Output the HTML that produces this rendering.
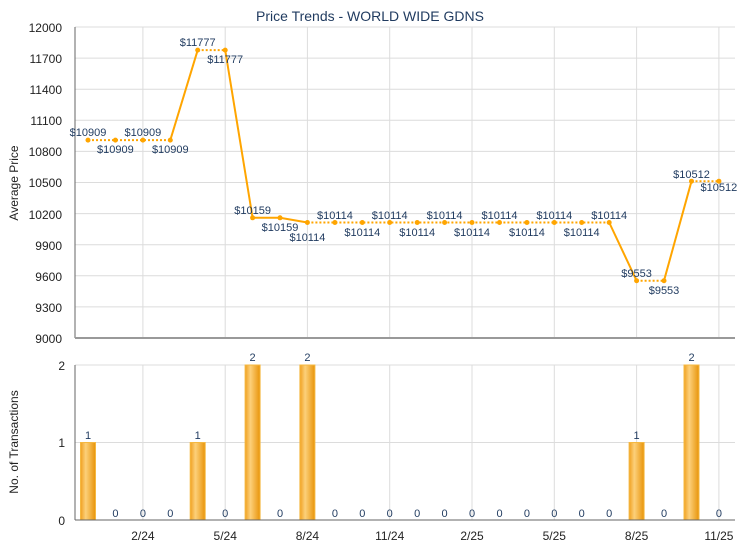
<!DOCTYPE html>
<html><head><meta charset="utf-8"><style>
html,body{margin:0;padding:0;background:#fff;}
svg{display:block;font-family:"Liberation Sans",sans-serif;}
</style></head><body>
<svg width="740" height="550" xmlns="http://www.w3.org/2000/svg">
<defs>
<linearGradient id="g" x1="0" x2="1" y1="0" y2="0">
<stop offset="0" stop-color="#f0a020"/><stop offset="0.35" stop-color="#fcd07a"/><stop offset="1" stop-color="#e8940a"/>
</linearGradient>
</defs>
<text x="370" y="21" text-anchor="middle" font-size="14" fill="#1f3a5f">Price Trends - WORLD WIDE GDNS</text>
<g stroke="#dcdcdc" stroke-width="1">
<line x1="75" x2="735" y1="306.9" y2="306.9"/><line x1="75" x2="735" y1="275.8" y2="275.8"/>
<line x1="75" x2="735" y1="244.7" y2="244.7"/><line x1="75" x2="735" y1="213.6" y2="213.6"/>
<line x1="75" x2="735" y1="182.5" y2="182.5"/><line x1="75" x2="735" y1="151.4" y2="151.4"/>
<line x1="75" x2="735" y1="120.3" y2="120.3"/><line x1="75" x2="735" y1="89.2" y2="89.2"/>
<line x1="75" x2="735" y1="58.1" y2="58.1"/><line x1="75" x2="735" y1="27" y2="27"/>
<line x1="75" x2="735" y1="365" y2="365"/><line x1="75" x2="735" y1="442.5" y2="442.5"/>
<line x1="142.9" x2="142.9" y1="27" y2="338"/><line x1="225.2" x2="225.2" y1="27" y2="338"/>
<line x1="307.4" x2="307.4" y1="27" y2="338"/><line x1="389.7" x2="389.7" y1="27" y2="338"/>
<line x1="472" x2="472" y1="27" y2="338"/><line x1="554.3" x2="554.3" y1="27" y2="338"/>
<line x1="636.6" x2="636.6" y1="27" y2="338"/><line x1="718.9" x2="718.9" y1="27" y2="338"/>
<line x1="142.9" x2="142.9" y1="365" y2="520"/><line x1="225.2" x2="225.2" y1="365" y2="520"/>
<line x1="307.4" x2="307.4" y1="365" y2="520"/><line x1="389.7" x2="389.7" y1="365" y2="520"/>
<line x1="472" x2="472" y1="365" y2="520"/><line x1="554.3" x2="554.3" y1="365" y2="520"/>
<line x1="636.6" x2="636.6" y1="365" y2="520"/><line x1="718.9" x2="718.9" y1="365" y2="520"/>
</g>
<g font-size="12" fill="#222" text-anchor="end">
<text x="62" y="343">9000</text><text x="62" y="312">9300</text><text x="62" y="281">9600</text>
<text x="62" y="250">9900</text><text x="62" y="219">10200</text><text x="62" y="187">10500</text>
<text x="62" y="156">10800</text><text x="62" y="125">11100</text><text x="62" y="94">11400</text>
<text x="62" y="63">11700</text><text x="62" y="32">12000</text>
<text x="65" y="370">2</text><text x="65" y="447">1</text><text x="65" y="525">0</text>
</g>
<g font-size="12" fill="#222" text-anchor="middle">
<text x="142.9" y="540">2/24</text><text x="225.2" y="540">5/24</text><text x="307.4" y="540">8/24</text>
<text x="389.7" y="540">11/24</text><text x="472" y="540">2/25</text><text x="554.3" y="540">5/25</text>
<text x="636.6" y="540">8/25</text><text x="718.9" y="540">11/25</text>
<text transform="translate(18,183) rotate(-90)">Average Price</text>
<text transform="translate(18,442) rotate(-90)">No. of Transactions</text>
</g>
<line x1="75" x2="75" y1="27" y2="338" stroke="#666"/>
<line x1="75" x2="735" y1="338" y2="338" stroke="#999" stroke-width="2"/>
<g fill="none" stroke="#ffa500" stroke-width="2">
<polyline points="170.3,140.1 197.7,50.1"/>
<polyline points="225.2,50.1 252.6,217.8 280,217.8 307.4,222.5"/>
<polyline points="609.2,222.5 636.6,280.7"/>
<polyline points="664,280.7 691.5,181.2"/>
</g>
<g fill="none" stroke="#ffa500" stroke-width="2" stroke-dasharray="2,2">
<polyline points="88,140.1 170.3,140.1"/>
<polyline points="197.7,50.1 225.2,50.1"/>
<polyline points="307.4,222.5 609.2,222.5"/>
<polyline points="636.6,280.7 664,280.7"/>
<polyline points="691.5,181.2 718.9,181.2"/>
</g>
<g fill="#ffa500">
<circle cx="88" cy="140.1" r="2.5"/><circle cx="115.4" cy="140.1" r="2.5"/><circle cx="142.9" cy="140.1" r="2.5"/><circle cx="170.3" cy="140.1" r="2.5"/>
<circle cx="197.7" cy="50.1" r="2.5"/><circle cx="225.2" cy="50.1" r="2.5"/><circle cx="252.6" cy="217.8" r="2.5"/><circle cx="280" cy="217.8" r="2.5"/>
<circle cx="307.4" cy="222.5" r="2.5"/><circle cx="334.9" cy="222.5" r="2.5"/><circle cx="362.3" cy="222.5" r="2.5"/><circle cx="389.7" cy="222.5" r="2.5"/>
<circle cx="417.2" cy="222.5" r="2.5"/><circle cx="444.6" cy="222.5" r="2.5"/><circle cx="472" cy="222.5" r="2.5"/><circle cx="499.5" cy="222.5" r="2.5"/>
<circle cx="526.9" cy="222.5" r="2.5"/><circle cx="554.3" cy="222.5" r="2.5"/><circle cx="581.7" cy="222.5" r="2.5"/><circle cx="609.2" cy="222.5" r="2.5"/>
<circle cx="636.6" cy="280.7" r="2.5"/><circle cx="664" cy="280.7" r="2.5"/><circle cx="691.5" cy="181.2" r="2.5"/><circle cx="718.9" cy="181.2" r="2.5"/>
</g>
<g font-size="11" fill="#1f3a5f" text-anchor="middle">
<text x="88" y="136">$10909</text><text x="115.4" y="153">$10909</text><text x="142.9" y="136">$10909</text><text x="170.3" y="153">$10909</text>
<text x="197.7" y="46">$11777</text><text x="225.2" y="63">$11777</text><text x="252.6" y="214">$10159</text><text x="280" y="231">$10159</text>
<text x="307.4" y="241">$10114</text><text x="334.9" y="219">$10114</text><text x="362.3" y="236">$10114</text><text x="389.7" y="219">$10114</text>
<text x="417.2" y="236">$10114</text><text x="444.6" y="219">$10114</text><text x="472" y="236">$10114</text><text x="499.5" y="219">$10114</text>
<text x="526.9" y="236">$10114</text><text x="554.3" y="219">$10114</text><text x="581.7" y="236">$10114</text><text x="609.2" y="219">$10114</text>
<text x="636.6" y="277">$9553</text><text x="664" y="294">$9553</text><text x="691.5" y="178">$10512</text><text x="718.9" y="191">$10512</text>
</g>
<g fill="url(#g)" stroke="#f5b840" stroke-width="1">
<rect x="80.5" y="442.5" width="15" height="77.5"/>
<rect x="190.2" y="442.5" width="15" height="77.5"/>
<rect x="245.1" y="365" width="15" height="155"/>
<rect x="299.9" y="365" width="15" height="155"/>
<rect x="629.1" y="442.5" width="15" height="77.5"/>
<rect x="684" y="365" width="15" height="155"/>
</g>
<g font-size="11" fill="#1f3a5f" text-anchor="middle">
<text x="88" y="439">1</text><text x="197.7" y="439">1</text><text x="252.6" y="361">2</text><text x="307.4" y="361">2</text>
<text x="636.6" y="439">1</text><text x="691.5" y="361">2</text>
<text x="115.4" y="517">0</text><text x="142.9" y="517">0</text><text x="170.3" y="517">0</text><text x="225.2" y="517">0</text>
<text x="280" y="517">0</text><text x="334.9" y="517">0</text><text x="362.3" y="517">0</text><text x="389.7" y="517">0</text>
<text x="417.2" y="517">0</text><text x="444.6" y="517">0</text><text x="472" y="517">0</text><text x="499.5" y="517">0</text>
<text x="526.9" y="517">0</text><text x="554.3" y="517">0</text><text x="581.7" y="517">0</text><text x="609.2" y="517">0</text>
<text x="664" y="517">0</text><text x="718.9" y="517">0</text>
</g>
<line x1="75" x2="75" y1="365" y2="520" stroke="#666"/>
<line x1="75" x2="735" y1="520" y2="520" stroke="#666"/>
</svg>
</body></html>
